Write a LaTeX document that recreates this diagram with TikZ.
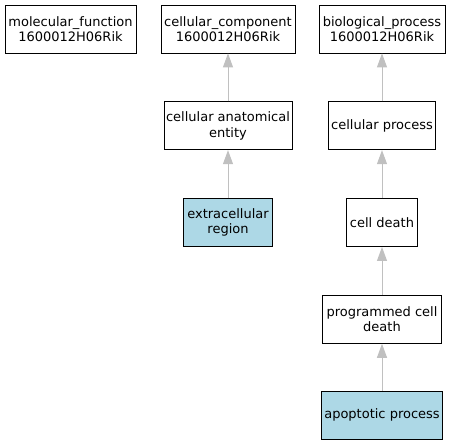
\documentclass[tikz,border=0pt]{standalone}
\usepackage{fontspec}
\setmainfont{DejaVu Sans}
\usetikzlibrary{positioning,arrows.meta}

\begin{document}
\begin{tikzpicture}[
            x=1pt, y=-1pt,
            node distance=48pt,
            term/.style={draw, rectangle, align=center, minimum height=48pt, inner sep=2pt,
                font=\fontsize{13}{15.5}\selectfont},
            hit/.style={term, fill={rgb,255:red,173;green,216;blue,230}},
            isa/.style={-{Triangle[length=14pt,width=10pt]}, draw={rgb,255:red,192;green,192;blue,192}, line width=1pt},
            line width=0.8pt
        ]
            \useasboundingbox (0,0) rectangle (451,443);
            \node[term, minimum width=131pt] (mf) at (70.5,29) {molecular\_function\\1600012H06Rik};
            \node[term, minimum width=134pt] (cc) at (228,29) {cellular\_component\\1600012H06Rik};
            \node[term, minimum width=126pt] (bp) at (382,29) {biological\_process\\1600012H06Rik};
            \node[term, minimum width=128pt, below=of cc] (cae) {cellular anatomical\\entity};
            \node[hit, minimum width=89pt, below=of cae] (er) {extracellular\\region};
            \node[term, minimum width=107pt, below=of bp] (cp) {cellular process};
            \node[term, minimum width=71pt, below=of cp] (cd) {cell death};
            \node[term, minimum width=119pt, below=of cd] (pcd) {programmed cell\\death};
            \node[hit, minimum width=121pt, below=47pt of pcd] (ap) {apoptotic process};
            \draw[isa] (cae) -- (cc);
            \draw[isa] (er) -- (cae);
            \draw[isa] (cp) -- (bp);
            \draw[isa] (cd) -- (cp);
            \draw[isa] (pcd) -- (cd);
            \draw[isa] (ap) -- (pcd);
        \end{tikzpicture}
\end{document}
